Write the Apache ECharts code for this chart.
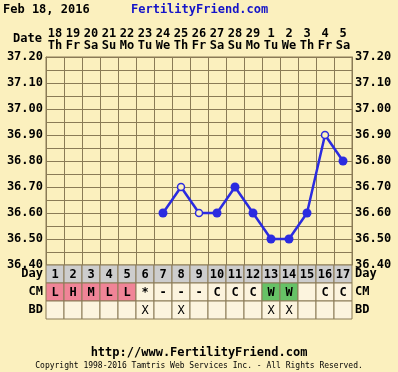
<!DOCTYPE html>
<html><head><meta charset="utf-8">
<script src="https://cdn.jsdelivr.net/npm/echarts@6/dist/echarts.min.js"></script>
<style>html,body{margin:0;padding:0;background:#FBF0BE}#c{width:398px;height:372px}</style>
</head><body><div id="c"></div>
<script>
const dayNums = ['18','19','20','21','22','23','24','25','26','27','28','29','1','2','3','4','5'];
const weekdays = ['Th','Fr','Sa','Su','Mo','Tu','We','Th','Fr','Sa','Su','Mo','Tu','We','Th','Fr','Sa'];
const cycleDays = ['1','2','3','4','5','6','7','8','9','10','11','12','13','14','15','16','17'];
const temps = [null,null,null,null,null,null,36.60,36.70,36.60,36.60,36.70,36.60,36.50,36.50,36.60,36.90,36.80];
const openPoint = [0,0,0,0,0,0,0,1,1,0,0,0,0,0,0,1,0];
const cmValues = ['L','H','M','L','L','*','-','-','-','C','C','C','W','W','','C','C'];
const bdValues = ['','','','','','X','','X','','','','','X','X','','',''];
const rowNames = ['Day','CM','BD'];
const yTicks = [36.4, 37.2, 0.1];

const BG = '#FBF0BE', GRID = '#8A7B56', BLUE = '#2B2BE0';
const FONT = 'DejaVu Sans Mono';
const cellFill = {L:'#F08497', H:'#F08497', M:'#F08497', W:'#66C266'};

const chart = echarts.init(document.getElementById('c'));
const lineData = temps.map((t,i) => t === null ? null : (openPoint[i]
  ? {value:t, symbolSize:7, itemStyle:{color:BG, borderColor:BLUE, borderWidth:1.5}}
  : {value:t, symbolSize:9, itemStyle:{color:BLUE, borderColor:BLUE, borderWidth:0}}));
const cells = [];
for (let r=0;r<3;r++) for (let i=0;i<17;i++) cells.push([i,r]);
const labelStyle = {color:'#000', fontFamily:FONT, fontWeight:'bold', fontSize:12};

chart.setOption({
  backgroundColor: BG,
  animation: false,
  grid: [
    {left:46, right:46, top:57, height:208, show:true, backgroundColor:BG, borderColor:GRID, borderWidth:1},
    {left:46, right:46, top:265, height:54}
  ],
  xAxis: [
    {type:'category', gridIndex:0, position:'top', data:dayNums, boundaryGap:true,
     axisLine:{lineStyle:{color:GRID}}, axisTick:{show:false, interval:0},
     splitLine:{show:true, interval:0, lineStyle:{color:GRID, width:1}},
     axisLabel:Object.assign({interval:0, margin:5, lineHeight:12,
       formatter:(v,i)=> v + '\n' + weekdays[i]}, labelStyle)},
    {type:'category', gridIndex:1, data:cycleDays, show:false}
  ],
  yAxis: [
    {type:'value', gridIndex:0, min:yTicks[0], max:yTicks[1], interval:yTicks[2], position:'left',
     axisLine:{show:true, lineStyle:{color:GRID}}, axisTick:{show:false},
     splitLine:{show:true, lineStyle:{color:GRID, width:1}},
     minorTick:{show:false, splitNumber:2},
     minorSplitLine:{show:true, lineStyle:{color:GRID, width:1}},
     axisLabel:Object.assign({margin:3, showMinLabel:true, showMaxLabel:true, formatter:v=>v.toFixed(2)}, labelStyle)},
    {type:'value', gridIndex:0, min:yTicks[0], max:yTicks[1], interval:yTicks[2], position:'right',
     axisLine:{show:true, lineStyle:{color:GRID}}, axisTick:{show:false}, splitLine:{show:false},
     axisLabel:Object.assign({margin:3, showMinLabel:true, showMaxLabel:true, formatter:v=>v.toFixed(2)}, labelStyle)},
    {type:'category', gridIndex:1, data:rowNames, inverse:true, position:'left',
     axisLine:{show:false}, axisTick:{show:false}, axisLabel:Object.assign({margin:3}, labelStyle)},
    {type:'category', gridIndex:1, data:rowNames, inverse:true, position:'right',
     axisLine:{show:false}, axisTick:{show:false}, axisLabel:Object.assign({margin:3}, labelStyle)}
  ],
  series: [
    {type:'line', xAxisIndex:0, yAxisIndex:0, data:lineData, symbol:'circle',
     lineStyle:{color:BLUE, width:2.5}, connectNulls:false, z:5},
    {type:'custom', xAxisIndex:1, yAxisIndex:2, data:cells,
     renderItem:(params, api) => {
       const i = api.value(0), r = api.value(1);
       const p = api.coord([i,r]); const s = api.size([1,1]);
       let txt, fill;
       if (r===0) { txt = cycleDays[i]; fill = '#CDCDCD'; }
       else if (r===1) { txt = cmValues[i]; fill = cellFill[txt] || '#FCF4DE'; }
       else { txt = bdValues[i]; fill = '#FCF4DE'; }
       return {type:'group', children:[
         {type:'rect', shape:{x:p[0]-s[0]/2, y:p[1]-s[1]/2, width:s[0], height:s[1]},
          style:{fill:fill, stroke:GRID, lineWidth:1}},
         {type:'text', style:{text:txt, x:p[0], y:p[1]+1, align:'center', verticalAlign:'middle',
          font:(r===2?'normal ':'bold ')+'12px '+FONT, fill:'#000'}}
       ]};
     }}
  ],
  graphic: [
    {type:'text', left:3, top:4, style:{text:'Feb 18, 2016', font:'bold 12px '+FONT, fill:'#000'}},
    {type:'text', left:131, top:4, style:{text:'FertilityFriend.com', font:'bold 12px '+FONT, fill:'#1414C8'}},
    {type:'text', right:356, top:33, style:{text:'Date', font:'bold 12px '+FONT, fill:'#000'}},
    {type:'text', left:'center', top:347, style:{text:'http://www.FertilityFriend.com', font:'bold 12px '+FONT, fill:'#000'}},
    {type:'text', left:'center', top:362, style:{text:'Copyright 1998-2016 Tamtris Web Services Inc. - All Rights Reserved.', font:'8px '+FONT, fill:'#000'}}
  ]
});
</script></body></html>
